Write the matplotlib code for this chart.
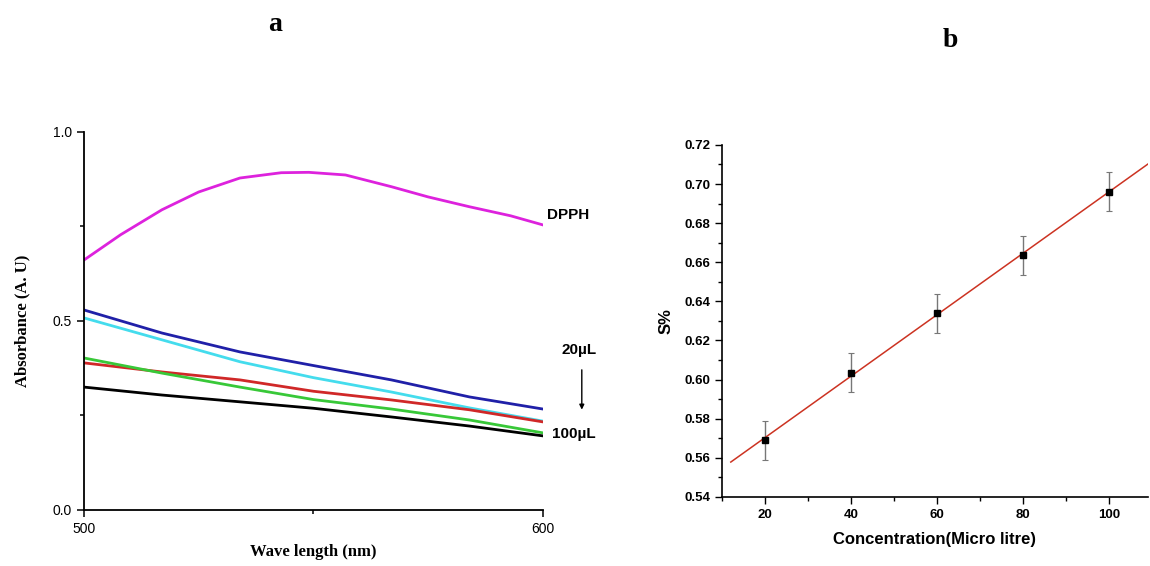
import numpy as np
import matplotlib.pyplot as plt
from matplotlib.ticker import MultipleLocator

## Data ##

# (a) UV-Vis absorbance spectra
wl_dpph = [500, 508, 517, 525, 534, 543, 549, 557, 567, 575, 584, 593, 600]
abs_dpph = [0.661, 0.728, 0.794, 0.841, 0.878, 0.892, 0.893, 0.886, 0.855, 0.828, 0.802, 0.778, 0.754]

wl = [500, 517, 534, 550, 567, 584, 600]
abs_blue = [0.529, 0.468, 0.418, 0.382, 0.344, 0.299, 0.267]
abs_cyan = [0.508, 0.450, 0.392, 0.350, 0.312, 0.270, 0.235]
abs_red = [0.389, 0.365, 0.344, 0.314, 0.291, 0.265, 0.233]
abs_green = [0.402, 0.362, 0.325, 0.292, 0.267, 0.238, 0.204]
abs_black = [0.325, 0.304, 0.286, 0.269, 0.246, 0.222, 0.196]

# (b) scavenging vs concentration
conc = [20, 40, 60, 80, 100]
s_pct = [0.569, 0.6035, 0.634, 0.6635, 0.696]
s_err = [0.010, 0.010, 0.010, 0.010, 0.010]
fit_range = [12, 110]

fig = plt.figure(figsize=(11.5, 5.66), dpi=100)

## panel a ##
ax1 = fig.add_axes([0.073, 0.099, 0.399, 0.668])
ax1.plot(wl_dpph, abs_dpph, color='#dd22dd', lw=2)
ax1.plot(wl, abs_blue, color='#2020a8', lw=2)
ax1.plot(wl, abs_cyan, color='#44dced', lw=2)
ax1.plot(wl, abs_red, color='#d02828', lw=2)
ax1.plot(wl, abs_green, color='#38c838', lw=2)
ax1.plot(wl, abs_black, color='black', lw=2)

ax1.set_xlim(500, 600)
ax1.set_ylim(0, 1.0)
ax1.xaxis.set_major_locator(MultipleLocator(100))
ax1.xaxis.set_minor_locator(MultipleLocator(50))
ax1.yaxis.set_major_locator(MultipleLocator(0.5))
ax1.yaxis.set_minor_locator(MultipleLocator(0.25))
ax1.yaxis.set_major_formatter(plt.FormatStrFormatter('%.1f'))
for s in ['top', 'right']:
    ax1.spines[s].set_visible(False)
for s in ['left', 'bottom']:
    ax1.spines[s].set_linewidth(1.3)
ax1.tick_params(which='both', direction='out', width=1.1)
ax1.tick_params(which='major', length=5, labelsize=10)
ax1.tick_params(which='minor', length=3)
for lbl in ax1.get_xticklabels() + ax1.get_yticklabels():
    lbl.set_family('Liberation Sans')
ax1.set_xlabel('Wave length (nm)', family='Liberation Serif', fontweight='bold',
               fontsize=12, labelpad=6)
ax1.set_ylabel('Absorbance (A. U)', family='Liberation Serif', fontweight='bold',
               fontsize=12, labelpad=16)

ax1.text(601, 0.78, 'DPPH', family='Liberation Sans', fontweight='bold',
         fontsize=11, va='center', ha='left', clip_on=False)
ax1.text(608, 0.423, '20µL', family='Liberation Sans', fontweight='bold',
         fontsize=11, va='center', ha='center', clip_on=False)
ax1.annotate('', xy=(608.5, 0.258), xytext=(608.5, 0.378),
             arrowprops=dict(arrowstyle='-|>', color='black', lw=1, mutation_scale=7),
             annotation_clip=False)
ax1.text(602, 0.200, '100µL', family='Liberation Sans', fontweight='bold',
         fontsize=11, va='center', ha='left', clip_on=False)

fig.text(0.239, 0.956, 'a', family='Liberation Serif', fontweight='bold',
         fontsize=20, ha='center', va='center')

## panel b ##
ax2 = fig.add_axes([0.628, 0.122, 0.370, 0.622])
coef = np.polyfit(conc, s_pct, 1)
ax2.plot(fit_range, np.polyval(coef, fit_range), color='#cc3322', lw=1.1, zorder=2)
ax2.errorbar(conc, s_pct, yerr=s_err, fmt='none', ecolor='#777777', elinewidth=1,
             capsize=2.5, capthick=0.8, zorder=1)
ax2.plot(conc, s_pct, 's', color='black', markersize=5, zorder=3)

ax2.set_xlim(10, 109)
ax2.set_ylim(0.54, 0.72)
ax2.xaxis.set_major_locator(MultipleLocator(20))
ax2.xaxis.set_minor_locator(MultipleLocator(10))
ax2.yaxis.set_major_locator(MultipleLocator(0.02))
ax2.yaxis.set_minor_locator(MultipleLocator(0.01))
ax2.yaxis.set_major_formatter(plt.FormatStrFormatter('%.2f'))
for s in ['top', 'right']:
    ax2.spines[s].set_visible(False)
for s in ['left', 'bottom']:
    ax2.spines[s].set_linewidth(1.2)
ax2.tick_params(which='both', direction='out', width=1)
ax2.tick_params(which='major', length=5, labelsize=9.5)
ax2.tick_params(which='minor', length=3)
for lbl in ax2.get_xticklabels() + ax2.get_yticklabels():
    lbl.set_family('Liberation Sans')
    lbl.set_fontweight('bold')
ax2.set_xlabel('Concentration(Micro litre)', family='Liberation Sans',
               fontweight='bold', fontsize=12, labelpad=8)
ax2.set_ylabel('S%', family='Liberation Sans', fontweight='bold', fontsize=12,
               labelpad=8)

fig.text(0.826, 0.929, 'b', family='Liberation Serif', fontweight='bold',
         fontsize=20, ha='center', va='center')

plt.savefig('out.png', dpi=100, facecolor='white')
